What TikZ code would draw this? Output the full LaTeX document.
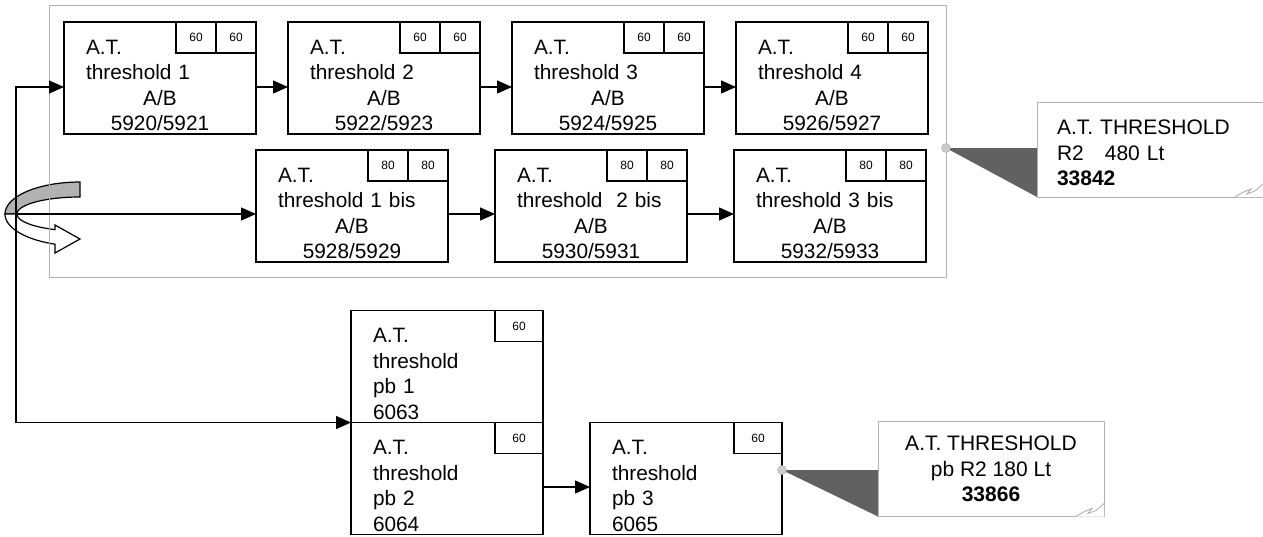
\documentclass[tikz,border=0pt]{standalone}
\usepackage{fontspec}
\setmainfont{Liberation Sans}
\usepackage{tikz}
\usetikzlibrary{arrows.meta, positioning, backgrounds}

\newcommand{\midln}[1]{\makebox[148pt]{#1}}

\begin{document}
\begin{tikzpicture}[
    x=1pt, y=-1pt,
    node distance=32pt,
    stage/.style={rectangle, draw=black, line width=1.3pt, outer sep=0pt, minimum width=192pt, minimum height=112pt, inner xsep=0pt, inner ysep=1pt, text width=148pt, align=left, font=\fontsize{20.8}{25.5}\selectfont, execute at begin node={\rule{0pt}{29pt}}},
    cell/.style={rectangle, draw=black, line width=1.1pt, outer sep=0pt, minimum width=40pt, minimum height=31pt, inner sep=0pt, font=\fontsize{12}{14}\selectfont},
    widecell/.style={cell, minimum width=48pt},
    note/.style={rectangle, draw=gray!60, line width=0.9pt, fill=white, outer sep=0pt, minimum width=226pt, minimum height=95pt, inner sep=0pt, font=\fontsize{21}{25.5}\selectfont},
    pin/.style={circle, draw=gray!70, fill=gray!40, minimum size=9pt, inner sep=0pt},
    pointer/.style={fill=black!62},
    arrow/.style={line width=1.3pt, ->, >={Triangle[length=15pt,width=13pt]}}
]

\useasboundingbox (0,0) rectangle (1263,536);

% turning arrow on the left
\filldraw[fill=gray!60, draw=black, line width=1.2pt]
    plot[domain=270:180, samples=24, variable=\t] ({80+75*cos(\t)},{214+32*sin(\t)})
    -- plot[domain=180:270, samples=24, variable=\t] ({80+63*cos(\t)},{214+17*sin(\t)}) -- cycle;
\filldraw[fill=white, draw=black, line width=1.2pt]
    plot[domain=180:109.5, samples=24, variable=\t] ({80+75*cos(\t)},{214+32*sin(\t)})
    -- (55,253) -- (80,239) -- (55,225)
    -- plot[domain=113.4:180, samples=24, variable=\t] ({80+63*cos(\t)},{214+17*sin(\t)}) -- cycle;

% frame round the A/B thresholds
\draw[gray!60, line width=1pt] (49,5) rectangle (946,277);

% first row
\node[stage] (t1) at (160,78) {A.T.\\threshold 1\\\midln{A/B}\\\midln{5920/5921}};
\node[stage, right=of t1] (t2) {A.T.\\threshold 2\\\midln{A/B}\\\midln{5922/5923}};
\node[stage, right=of t2] (t3) {A.T.\\threshold 3\\\midln{A/B}\\\midln{5924/5925}};
\node[stage, right=of t3] (t4) {A.T.\\threshold 4\\\midln{A/B}\\\midln{5926/5927}};

\node[cell, anchor=north east] (t1b) at (t1.north east) {60};
\node[cell, anchor=north east] (t1a) at (t1b.north west) {60};
\node[cell, anchor=north east] (t2b) at (t2.north east) {60};
\node[cell, anchor=north east] (t2a) at (t2b.north west) {60};
\node[cell, anchor=north east] (t3b) at (t3.north east) {60};
\node[cell, anchor=north east] (t3a) at (t3b.north west) {60};
\node[cell, anchor=north east] (t4b) at (t4.north east) {60};
\node[cell, anchor=north east] (t4a) at (t4b.north west) {60};

% second row (bis)
\node[stage] (b1) at (352,206) {A.T.\\threshold 1 bis\\\midln{A/B}\\\midln{5928/5929}};
\node[stage, right=47pt of b1] (b2) {A.T.\\threshold~ 2 bis\\\midln{A/B}\\\midln{5930/5931}};
\node[stage, right=47pt of b2] (b3) {A.T.\\threshold 3 bis\\\midln{A/B}\\\midln{5932/5933}};

\node[cell, anchor=north east] (b1b) at (b1.north east) {80};
\node[cell, anchor=north east] (b1a) at (b1b.north west) {80};
\node[cell, anchor=north east] (b2b) at (b2.north east) {80};
\node[cell, anchor=north east] (b2a) at (b2b.north west) {80};
\node[cell, anchor=north east] (b3b) at (b3.north east) {80};
\node[cell, anchor=north east] (b3a) at (b3b.north west) {80};

% pb thresholds
\node[stage] (p1) at (447,366.5) {A.T.\\threshold\\pb 1\\6063};
\node[stage] (p2) at (447,478.5) {A.T.\\threshold\\pb 2\\6064};
\node[stage, right=47pt of p2] (p3) {A.T.\\threshold\\pb 3\\6065};

\node[widecell, anchor=north east] (p1c) at (p1.north east) {60};
\node[widecell, anchor=north east] (p2c) at (p2.north east) {60};
\node[widecell, anchor=north east] (p3c) at (p3.north east) {60};

% connectors
\coordinate (spine) at (16,422.5);
\coordinate (t1in) at ([yshift=-9pt]t1.west);
\coordinate (b1in) at ([yshift=-8pt]b1.west);
\draw[arrow] (spine) |- (t1in);
\draw[arrow] (spine |- b1in) -- (b1in);
\draw[arrow] (spine) -- (p1.south west);
\draw[arrow] ([yshift=-9pt]t1.east) -- ([yshift=-9pt]t2.west);
\draw[arrow] ([yshift=-9pt]t2.east) -- ([yshift=-9pt]t3.west);
\draw[arrow] ([yshift=-9pt]t3.east) -- ([yshift=-9pt]t4.west);
\draw[arrow] ([yshift=-8pt]b1.east) -- ([yshift=-8pt]b2.west);
\draw[arrow] ([yshift=-8pt]b2.east) -- ([yshift=-8pt]b3.west);
\draw[arrow] ([yshift=-8.5pt]p2.east) -- ([yshift=-8.5pt]p3.west);

% callouts
\node[note, text width=186pt, align=left, execute at begin node={\rule{0pt}{22pt}}] (note1) at (1150,149.5) {A.T. THRESHOLD\\R2~~ 480 Lt\\\textbf{33842}};
\node[note, align=center] (note2) at (991,469) {A.T. THRESHOLD\\pb R2 180 Lt\\\textbf{33866}};
\node[pin] (pinA) at (946,148) {};
\node[pin] (pinB) at ([yshift=8.5pt]p3.east) {};
\begin{scope}[on background layer]
\fill[pointer] (pinA.center) -- (note1.west |- pinA.center) -- (note1.south west) -- cycle;
\fill[pointer] (pinB.center) -- (note2.west |- pinB.center) -- (note2.south west) -- cycle;
\end{scope}

% folded corners
\fill[white] ([xshift=-28pt]note1.south east) -- (note1.south east) -- ([yshift=13pt]note1.south east) -- cycle;
\draw[gray!60, line width=0.9pt] ([xshift=-28pt]note1.south east) .. controls ([xshift=-20pt,yshift=5pt]note1.south east) .. ([xshift=-12pt,yshift=8pt]note1.south east) -- ([xshift=-16pt,yshift=3pt]note1.south east) -- ([xshift=-8pt,yshift=6pt]note1.south east) -- ([yshift=13pt]note1.south east);
\fill[white] ([xshift=-28pt]note2.south east) -- (note2.south east) -- ([yshift=13pt]note2.south east) -- cycle;
\draw[gray!60, line width=0.9pt] ([xshift=-28pt]note2.south east) .. controls ([xshift=-20pt,yshift=5pt]note2.south east) .. ([xshift=-12pt,yshift=8pt]note2.south east) -- ([xshift=-16pt,yshift=3pt]note2.south east) -- ([xshift=-8pt,yshift=6pt]note2.south east) -- ([yshift=13pt]note2.south east);

\end{tikzpicture}
\end{document}
